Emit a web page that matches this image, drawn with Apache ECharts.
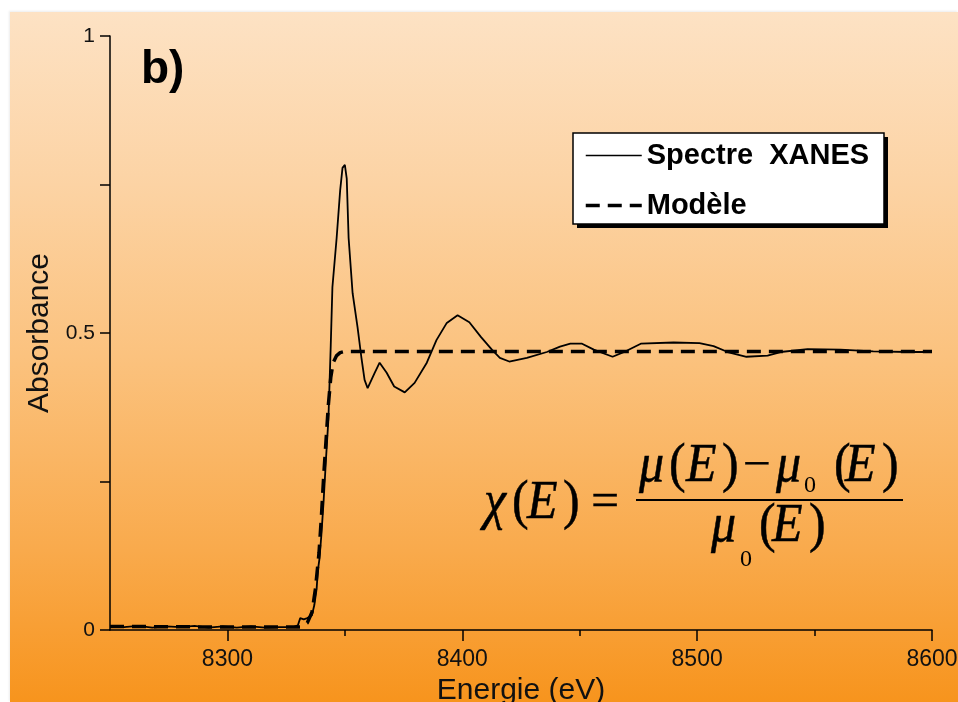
<!DOCTYPE html>
<html>
<head>
<meta charset="utf-8">
<script src="https://cdn.jsdelivr.net/npm/echarts@6/dist/echarts.min.js"></script>
<style>
  html, body { margin: 0; padding: 0; background: #ffffff; }
  #wrap { position: relative; width: 958px; height: 702px; overflow: hidden; }
  #bg {
    position: absolute; left: 10px; top: 12px; right: 0; bottom: 0;
    background: linear-gradient(to bottom, #fde2c4 0%, #fcd3a4 25%, #fbc27e 50%, #f9aa4c 78%, #f7941d 100%);
    box-shadow: -1px -1px 2px rgba(0,0,0,0.08);
  }
  #chart { position: absolute; left: 0; top: 0; width: 958px; height: 702px; }
</style>
</head>
<body>
<div id="wrap">
  <div id="bg"></div>
  <div id="chart"></div>
</div>
<script>
// Spectre XANES (trait plein)
const spectreEnergie = [
    8250, 8256, 8262, 8268, 8274, 8280, 8286, 8292, 8298, 8304, 8310, 8316, 8322, 8328,
    8330, 8331, 8332.5, 8334, 8336, 8337, 8338, 8338.5, 8339.2, 8340, 8341, 8342, 8343,
    8344, 8344.7, 8346.5, 8348, 8349, 8350, 8350.8, 8351.6, 8353.3, 8355.4, 8357, 8358.4,
    8359.7, 8360.5, 8362.7, 8364.8, 8367.8, 8371, 8375.5, 8379.7, 8384.9, 8389, 8393.4,
    8398, 8403, 8408, 8412.6, 8416, 8420, 8427.5, 8436, 8441.6, 8446, 8451, 8456, 8464,
    8470, 8476, 8490, 8501, 8507, 8513, 8521, 8530, 8535.5, 8547, 8561, 8575, 8590, 8600
];
const spectreAbs = [
    0.007, 0.005, 0.007, 0.004, 0.006, 0.005, 0.007, 0.004, 0.006, 0.004, 0.006, 0.004, 0.005, 0.005,
    0.008, 0.02, 0.018, 0.02, 0.025, 0.042, 0.07, 0.1, 0.12, 0.16, 0.22, 0.29, 0.355,
    0.48, 0.577, 0.66, 0.74, 0.778, 0.783, 0.76, 0.66, 0.567, 0.51, 0.46, 0.421,
    0.407, 0.407, 0.433, 0.45, 0.433, 0.41, 0.4, 0.416, 0.45, 0.488, 0.517,
    0.53, 0.518, 0.493, 0.472, 0.458, 0.452, 0.458, 0.468, 0.477, 0.482, 0.482, 0.472, 0.46,
    0.47, 0.482, 0.484, 0.483, 0.478, 0.468, 0.46, 0.462, 0.468, 0.473, 0.472, 0.469, 0.468, 0.468
];

// Modèle (tirets)
const modeleEnergie = [8250, 8300, 8331, 8334, 8336, 8337.5, 8339, 8340, 8341, 8342, 8343, 8344, 8345, 8346.5, 8348, 8350, 8600];
const modeleAbs = [0.006, 0.005, 0.005, 0.012, 0.03, 0.07, 0.13, 0.19, 0.26, 0.32, 0.38, 0.425, 0.45, 0.462, 0.467, 0.469, 0.469];

const xTicksMajor = [8300, 8400, 8500, 8600];
const xTicksMinor = [8350, 8450, 8550];
const yTicks = [0, 0.25, 0.5, 0.75, 1];
const yLabels = [0, 0.5, 1];

const pairs = (xs, ys) => xs.map((x, i) => [x, ys[i]]);

const SANS = '"Liberation Sans", Arial, Helvetica, sans-serif';
const SERIF = '"Liberation Serif", "Times New Roman", serif';

// morceaux de la formule : [texte, x, y, police, étirement vertical, épaisseur du contour]
const ITAL = 'italic 50px ' + SERIF;
const ROM = '50px ' + SERIF;
const SUB = '24px ' + SERIF;
const formule = [
    ['χ', 484, 504, ITAL, 1.1, 0.5], ['(', 512, 504, ROM, 1.1, 0.5], ['E', 527, 504, ITAL, 1.1, 0.5], [')', 563, 504, ROM, 1.1, 0.5],
    ['=', 591, 504, ROM, 0.95, 0.3],
    ['μ', 639, 467, ITAL, 1.1, 0.5], ['(', 669, 467, ROM, 1.1, 0.5], ['E', 686, 467, ITAL, 1.1, 0.5], [')', 722, 467, ROM, 1.1, 0.5],
    ['−', 743, 467, ROM, 0.95, 0.2],
    ['μ', 776, 467, ITAL, 1.1, 0.5], ['0', 804, 486, SUB, 1, 0], ['(', 834, 467, ROM, 1.1, 0.5], ['E', 845, 467, ITAL, 1.1, 0.5], [')', 882, 467, ROM, 1.1, 0.5],
    ['μ', 711, 527, ITAL, 1.1, 0.5], ['0', 740, 560, SUB, 1, 0], ['(', 759, 527, ROM, 1.1, 0.5], ['E', 772, 527, ITAL, 1.1, 0.5], [')', 809, 527, ROM, 1.1, 0.5]
];

const chart = echarts.init(document.getElementById('chart'), null, {renderer: 'canvas'});

const graphics = [
    // cadre de la légende avec ombre
    {type: 'rect', z: 1, shape: {x: 577, y: 137, width: 311, height: 91}, style: {fill: '#000'}},
    {type: 'rect', z: 2, shape: {x: 573, y: 133, width: 311, height: 91}, style: {fill: '#fff', stroke: '#000', lineWidth: 1.5}},
    // étiquette du panneau
    {type: 'text', left: 141, top: 47, style: {text: 'b)', font: 'bold 46px ' + SANS, fill: '#000'}},
    // barre de fraction
    {type: 'line', shape: {x1: 636, y1: 500, x2: 903, y2: 500}, style: {stroke: '#000', lineWidth: 2}}
];
formule.forEach(function (f) {
    graphics.push({
        type: 'text', x: f[1], y: f[2], scaleY: f[4],
        style: {
            text: f[0], font: f[3], fill: '#000',
            stroke: f[5] ? '#000' : null, lineWidth: f[5],
            verticalAlign: 'middle'
        }
    });
});

const option = {
    backgroundColor: 'transparent',
    animation: false,
    grid: {left: 110, right: 26, top: 36, bottom: 72, outerBoundsMode: 'none', containLabel: false},
    legend: {
        orient: 'vertical',
        left: 584,
        top: 141,
        z: 10,
        itemWidth: 56,
        itemHeight: 14,
        itemGap: 21,
        padding: 0,
        itemStyle: {opacity: 0},
        textStyle: {fontFamily: SANS, fontSize: 29, fontWeight: 'bold', color: '#000', lineHeight: 29},
        data: [
            {name: 'Spectre  XANES', lineStyle: {width: 1.6}},
            {name: 'Modèle', lineStyle: {width: 3.5, type: [14, 8]}}
        ]
    },
    xAxis: [
        {
            type: 'value',
            min: 8250,
            max: 8600,
            name: 'Energie (eV)',
            nameLocation: 'middle',
            nameGap: 46,
            nameTextStyle: {fontFamily: SANS, fontSize: 30, color: '#111'},
            axisLine: {show: true, onZero: false, lineStyle: {color: '#000', width: 1.5}},
            axisTick: {show: true, customValues: xTicksMajor, length: 11, lineStyle: {color: '#000', width: 1.5}},
            axisLabel: {
                customValues: xTicksMajor, fontFamily: SANS, fontSize: 23, color: '#111', margin: 18,
                formatter: function (v) { return String(v); }
            },
            splitLine: {show: false}
        },
        {
            type: 'value',
            min: 8250,
            max: 8600,
            position: 'bottom',
            offset: 0,
            axisLine: {show: false, onZero: false},
            axisTick: {show: true, customValues: xTicksMinor, length: 6, lineStyle: {color: '#000', width: 1.5}},
            axisLabel: {show: false},
            splitLine: {show: false}
        }
    ],
    yAxis: {
        type: 'value',
        min: 0,
        max: 1,
        interval: 0.25,
        name: 'Absorbance',
        nameLocation: 'middle',
        nameGap: 53,
        nameTextStyle: {fontFamily: SANS, fontSize: 30, color: '#111'},
        axisLine: {show: true, lineStyle: {color: '#000', width: 1.5}},
        axisTick: {show: true, customValues: yTicks, length: 10, lineStyle: {color: '#000', width: 1.5}},
        axisLabel: {customValues: yLabels, fontFamily: SANS, fontSize: 21, color: '#111', margin: 15},
        splitLine: {show: false}
    },
    series: [
        {
            name: 'Spectre  XANES',
            type: 'line',
            xAxisIndex: 0,
            data: pairs(spectreEnergie, spectreAbs),
            symbol: 'none',
            z: 3,
            itemStyle: {color: '#000'},
            lineStyle: {color: '#000', width: 1.8}
        },
        {
            name: 'Modèle',
            type: 'line',
            xAxisIndex: 0,
            data: pairs(modeleEnergie, modeleAbs),
            symbol: 'none',
            z: 2,
            itemStyle: {color: '#000'},
            lineStyle: {color: '#000', width: 3.5, type: [14, 8]}
        }
    ],
    graphic: graphics
};

chart.setOption(option);
</script>
</body>
</html>
